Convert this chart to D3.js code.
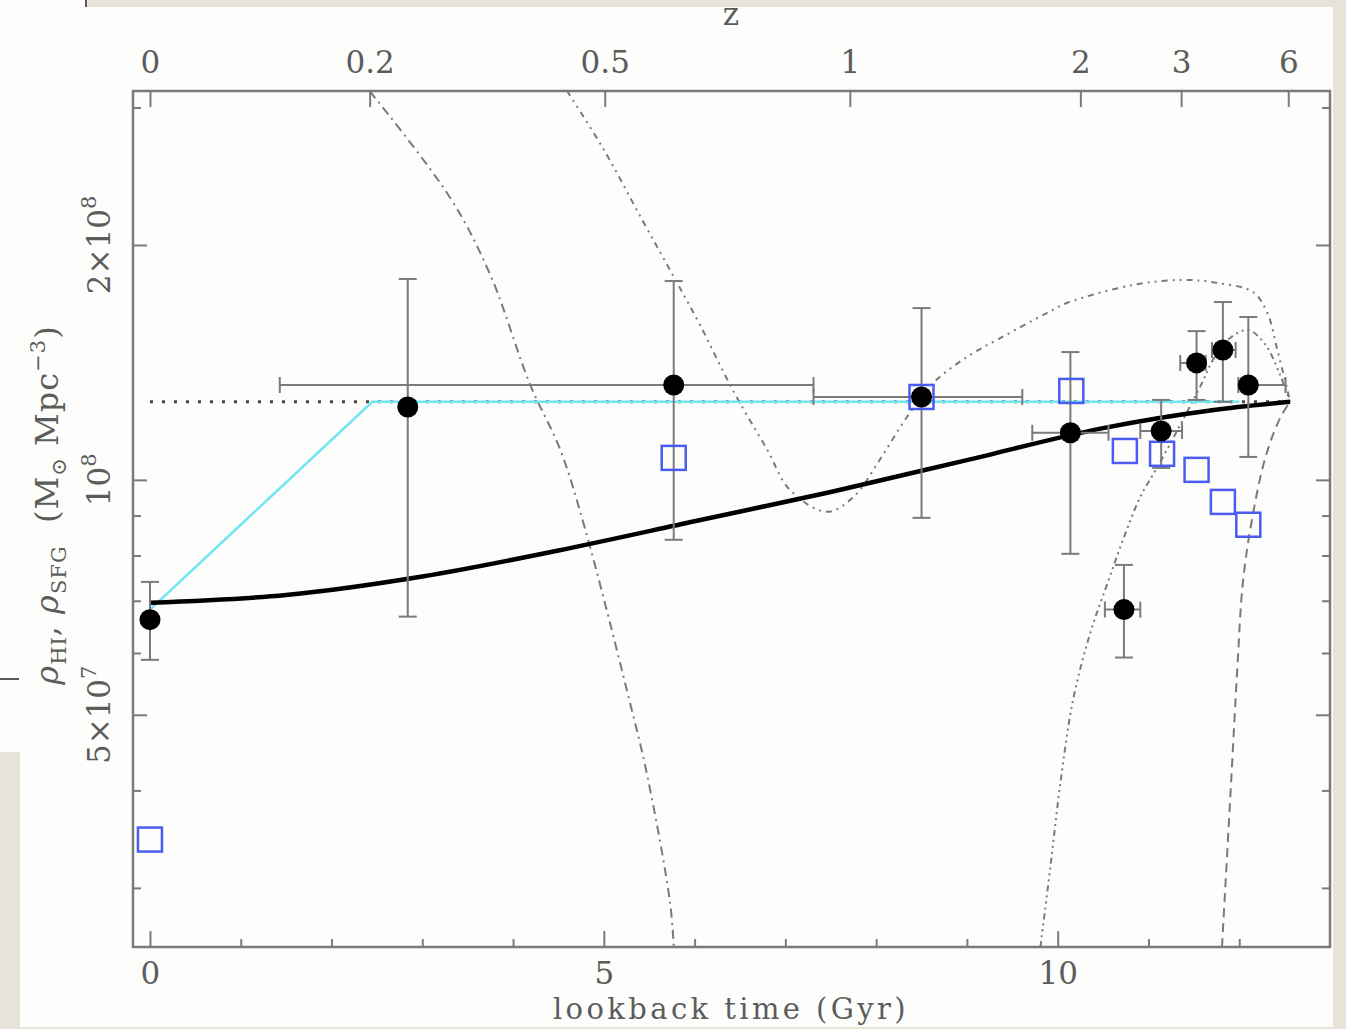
<!DOCTYPE html>
<html>
<head>
<meta charset="utf-8">
<script src="https://cdn.jsdelivr.net/npm/d3@7"></script>
<style>
  body { margin: 0; background: #fdfdfb; }
  svg { display: block; }
  text { font-family: "DejaVu Serif", serif; fill: #5c5c5c; }
</style>
</head>
<body>
<svg id="chart" width="1346" height="1029"></svg>
<script>
// HI data points (lookback time in Gyr, density in 1e8 Msun Mpc^-3)
const hiTime     = [0, 2.84, 5.77, 8.50, 10.14, 10.73, 11.14, 11.53, 11.82, 12.10];
const hiRho      = [0.662, 1.240, 1.323, 1.277, 1.149, 0.682, 1.155, 1.412, 1.467, 1.323];
const hiRhoLow   = [0.588, 0.668, 0.838, 0.894, 0.804, 0.592, 1.036, 1.266, 1.259, 1.070];
const hiRhoHigh  = [0.740, 1.809, 1.798, 1.660, 1.458, 0.778, 1.266, 1.551, 1.690, 1.617];
const hiTimeLow  = [null, null, 1.43, 7.31, 9.72, 10.52, 10.91, 11.35, 11.70, 11.99];
const hiTimeHigh = [null, null, 7.31, 9.61, 10.56, 10.91, 11.37, 11.63, 11.96, 12.51];

// star-forming gas points (open squares)
const sfgTime = [0, 5.77, 8.50, 10.15, 10.74, 11.15, 11.53, 11.82, 12.10];
const sfgRho  = [0.346, 1.067, 1.277, 1.300, 1.089, 1.080, 1.030, 0.937, 0.876];

// thick model curve
const modelTime = [0, 1.5, 3.0, 4.5, 6.0, 7.5, 9.0, 10.5, 11.7, 12.56];
const modelRho  = [0.696, 0.712, 0.752, 0.812, 0.885, 0.965, 1.060, 1.165, 1.228, 1.259];

// cyan curve and constant dotted line
const cyanTime  = [0, 2.45, 12.0];
const cyanRho   = [0.682, 1.259, 1.259];
const constTime = [0, 12.56];
const constRho  = [1.259, 1.259];

// grey model tracks
const trackATime = [2.42, 3.31, 3.75, 4.19, 4.52, 4.79, 5.26, 5.48, 5.73, 5.77];
const trackARho  = [3.15, 2.296, 1.830, 1.323, 1.093, 0.868, 0.534, 0.417, 0.287, 0.252];
const trackBTime = [4.595, 4.99, 5.43, 5.76, 6.06, 6.42, 6.80, 7.05, 7.46, 7.75, 8.04, 8.34, 8.63, 9.00, 9.37, 9.88, 10.10, 10.83, 11.38, 11.76, 12.15, 12.31, 12.42, 12.53, 12.56];
const trackBRho  = [3.15, 2.661, 2.146, 1.830, 1.579, 1.304, 1.093, 0.971, 0.910, 0.951, 1.061, 1.204, 1.331, 1.437, 1.520, 1.636, 1.685, 1.777, 1.804, 1.788, 1.741, 1.636, 1.467, 1.304, 1.259];
const trackCTime = [9.81, 9.92, 10.03, 10.17, 10.36, 10.55, 10.72, 10.91, 11.10, 11.35, 11.59, 11.71, 11.90, 12.10, 12.29, 12.45, 12.56];
const trackCRho  = [0.252, 0.3195, 0.409, 0.523, 0.637, 0.738, 0.838, 0.951, 1.039, 1.176, 1.331, 1.424, 1.520, 1.556, 1.489, 1.363, 1.259];
const trackDTime = [11.81, 11.90, 11.98, 12.04, 12.14, 12.29, 12.45, 12.56];
const trackDRho  = [0.252, 0.389, 0.576, 0.738, 0.889, 1.070, 1.200, 1.259];

// axes
const xMajor = [0, 5, 10];
const xMinor = [1, 2, 3, 4, 6, 7, 8, 9, 11, 12];
const zLabels = ["0", "0.2", "0.5", "1", "2", "3", "6"];
const zLookback = [0, 2.42, 5.01, 7.71, 10.25, 11.36, 12.54];
const yMajor = [0.5, 1, 2];
const yMinor = [0.3, 0.4, 0.6, 0.7, 0.8, 0.9, 3];
const yLabels = [["5×10", "7"], ["10", "8"], ["2×10", "8"]];

const svg = d3.select("#chart");
const plot = {left: 133, right: 1330, top: 91, bottom: 947};

const x = d3.scaleLinear().domain([-0.187, 13.0]).range([plot.left, plot.right]);
const y = d3.scaleLog().domain([0.252, 3.15]).range([plot.bottom, plot.top]);

const grey = "#7a7a7a";

svg.append("clipPath").attr("id", "clip")
  .append("rect")
  .attr("x", plot.left).attr("y", plot.top)
  .attr("width", plot.right - plot.left).attr("height", plot.bottom - plot.top);

const body = svg.append("g").attr("clip-path", "url(#clip)");

const line = d3.line().x(d => x(d[0])).y(d => y(d[1]));
const smooth = d3.line().x(d => x(d[0])).y(d => y(d[1])).curve(d3.curveCatmullRom.alpha(0.5));
const mono = d3.line().x(d => x(d[0])).y(d => y(d[1])).curve(d3.curveMonotoneX);

function pairs(ts, vs) { return ts.map((t, i) => [t, vs[i]]); }

// grey tracks
const tracks = [
  {t: trackATime, v: trackARho, dash: "9,5,2,5"},
  {t: trackBTime, v: trackBRho, dash: "6,5,2,5,2,5"},
  {t: trackCTime, v: trackCRho, dash: "6,4,2,4,2,4,2,4"},
  {t: trackDTime, v: trackDRho, dash: "9,6"},
];
tracks.forEach(tr => {
  body.append("path")
    .attr("d", smooth(pairs(tr.t, tr.v)))
    .attr("fill", "none")
    .attr("stroke", grey)
    .attr("stroke-width", 2)
    .attr("stroke-dasharray", tr.dash);
});

// constant dotted line
body.append("path")
  .attr("d", line(pairs(constTime, constRho)))
  .attr("fill", "none")
  .attr("stroke", "#444")
  .attr("stroke-width", 3)
  .attr("stroke-dasharray", "3,9");

// cyan curve
body.append("path")
  .attr("d", line(pairs(cyanTime, cyanRho)))
  .attr("fill", "none")
  .attr("stroke", "#6fe6f2")
  .attr("stroke-width", 2.5);

// thick model
body.append("path")
  .attr("d", mono(pairs(modelTime, modelRho)))
  .attr("fill", "none")
  .attr("stroke", "#000")
  .attr("stroke-width", 4.5);

// error bars
const eb = body.append("g").attr("stroke", grey).attr("stroke-width", 2).attr("fill", "none");
hiTime.forEach((t, i) => {
  const cx = x(t);
  const y0 = y(hiRhoLow[i]), y1 = y(hiRhoHigh[i]);
  eb.append("line").attr("x1", cx).attr("x2", cx).attr("y1", y0).attr("y2", y1);
  eb.append("line").attr("x1", cx - 9).attr("x2", cx + 9).attr("y1", y0).attr("y2", y0);
  eb.append("line").attr("x1", cx - 9).attr("x2", cx + 9).attr("y1", y1).attr("y2", y1);
  if (hiTimeLow[i] !== null) {
    const cy = y(hiRho[i]);
    const x0 = x(hiTimeLow[i]), x1 = x(hiTimeHigh[i]);
    eb.append("line").attr("x1", x0).attr("x2", x1).attr("y1", cy).attr("y2", cy);
    eb.append("line").attr("x1", x0).attr("x2", x0).attr("y1", cy - 8).attr("y2", cy + 8);
    eb.append("line").attr("x1", x1).attr("x2", x1).attr("y1", cy - 8).attr("y2", cy + 8);
  }
});

// open squares
svg.append("g").selectAll("rect")
  .data(pairs(sfgTime, sfgRho))
  .join("rect")
  .attr("x", d => x(d[0]) - 12)
  .attr("y", d => y(d[1]) - 12)
  .attr("width", 24).attr("height", 24)
  .attr("fill", "none")
  .attr("stroke", "#4a5cf2")
  .attr("stroke-width", 2.5);

// filled circles
svg.append("g").selectAll("circle")
  .data(pairs(hiTime, hiRho))
  .join("circle")
  .attr("cx", d => x(d[0]))
  .attr("cy", d => y(d[1]))
  .attr("r", 10.5)
  .attr("fill", "#000");

// axes ticks
function styleAxis(g) {
  g.select(".domain").remove();
  g.selectAll(".tick line").attr("stroke", grey).attr("stroke-width", 2);
  g.selectAll(".tick text").attr("fill", "#5c5c5c").attr("font-size", 31)
    .attr("font-family", "DejaVu Serif, serif");
}

svg.append("g").attr("transform", `translate(0,${plot.bottom})`)
  .call(d3.axisBottom(x).tickValues(xMajor).tickSize(-16).tickPadding(15).tickFormat(d3.format("d")))
  .call(styleAxis);
svg.append("g").attr("transform", `translate(0,${plot.bottom})`)
  .call(d3.axisBottom(x).tickValues(xMinor).tickSize(-8).tickFormat(""))
  .call(styleAxis);
svg.append("g").attr("transform", `translate(0,${plot.top})`)
  .call(d3.axisTop(x).tickValues(zLookback).tickSize(-16).tickPadding(18).tickFormat((d, i) => zLabels[i]))
  .call(styleAxis);
svg.append("g").attr("transform", `translate(${plot.left},0)`)
  .call(d3.axisLeft(y).tickValues(yMajor).tickSize(-14).tickFormat(""))
  .call(styleAxis);
svg.append("g").attr("transform", `translate(${plot.left},0)`)
  .call(d3.axisLeft(y).tickValues(yMinor).tickSize(-8).tickFormat(""))
  .call(styleAxis);
svg.append("g").attr("transform", `translate(${plot.right},0)`)
  .call(d3.axisRight(y).tickValues(yMajor).tickSize(-14).tickFormat(""))
  .call(styleAxis);
svg.append("g").attr("transform", `translate(${plot.right},0)`)
  .call(d3.axisRight(y).tickValues(yMinor).tickSize(-8).tickFormat(""))
  .call(styleAxis);

// frame
svg.append("rect")
  .attr("x", plot.left).attr("y", plot.top)
  .attr("width", plot.right - plot.left).attr("height", plot.bottom - plot.top)
  .attr("fill", "none").attr("stroke", grey).attr("stroke-width", 2.5);

// y tick labels, rotated
yMajor.forEach((v, i) => {
  const t = svg.append("text")
    .attr("transform", `translate(110,${y(v)}) rotate(-90)`)
    .attr("text-anchor", "middle")
    .attr("font-size", 31);
  t.append("tspan").text(yLabels[i][0]);
  t.append("tspan").attr("font-size", 21).attr("dy", -14).text(yLabels[i][1]);
});

// axis titles
svg.append("text")
  .attr("x", 731).attr("y", 25)
  .attr("text-anchor", "middle")
  .attr("font-size", 31)
  .text("z");

svg.append("text")
  .attr("x", 731).attr("y", 1019)
  .attr("text-anchor", "middle")
  .attr("font-size", 29)
  .attr("letter-spacing", 3.4)
  .text("lookback time (Gyr)");

const yt = svg.append("text")
  .attr("transform", "translate(58,505) rotate(-90)")
  .attr("text-anchor", "middle")
  .attr("font-size", 32)
  .attr("letter-spacing", 1)
  .style("white-space", "pre");
yt.append("tspan").attr("font-style", "italic").text("ρ");
yt.append("tspan").attr("font-size", 21).attr("dy", 8).text("HI");
yt.append("tspan").attr("dy", -8).text(", ");
yt.append("tspan").attr("font-style", "italic").text("ρ");
yt.append("tspan").attr("font-size", 21).attr("dy", 8).text("SFG");
yt.append("tspan").attr("dy", -8).text("  (M");
yt.append("tspan").attr("font-size", 21).attr("dy", 8).text("⊙");
yt.append("tspan").attr("dy", -8).text(" Mpc");
yt.append("tspan").attr("font-size", 21).attr("dy", -13).text("−3");
yt.append("tspan").attr("dy", 13).text(")");

// surrounding page scraps
const beige = "#e7e3d8";
svg.append("rect").attr("x", 87).attr("y", 0).attr("width", 1259).attr("height", 7).attr("fill", beige);
svg.append("rect").attr("x", 1333).attr("y", 0).attr("width", 13).attr("height", 1029).attr("fill", beige);
svg.append("rect").attr("x", 0).attr("y", 1027).attr("width", 1346).attr("height", 2).attr("fill", beige);
svg.append("rect").attr("x", 0).attr("y", 752).attr("width", 20).attr("height", 277).attr("fill", beige);
svg.append("line").attr("x1", 86).attr("x2", 86).attr("y1", 0).attr("y2", 7).attr("stroke", "#222").attr("stroke-width", 1.5);
svg.append("line").attr("x1", 0).attr("x2", 19).attr("y1", 679).attr("y2", 679).attr("stroke", "#222").attr("stroke-width", 1.5);
</script>
</body>
</html>
